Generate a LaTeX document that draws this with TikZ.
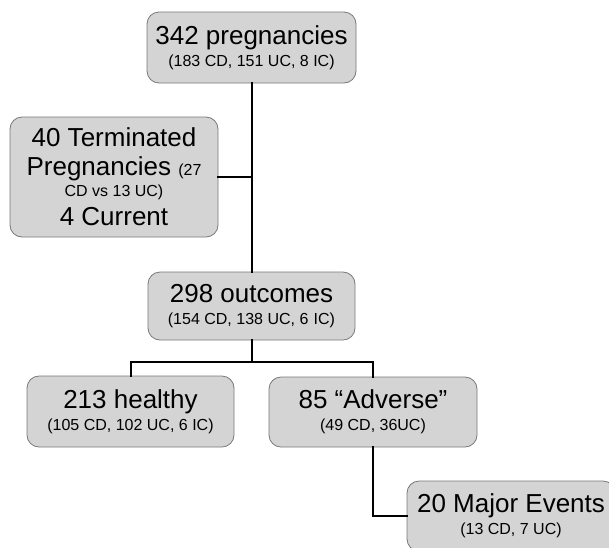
\documentclass[tikz,border=0pt]{standalone}
\usepackage{fontspec}
\setmainfont{Liberation Sans}
\usepackage{tikz}
\usetikzlibrary{calc}

\definecolor{boxfill}{RGB}{212,212,212}
\definecolor{boxedge}{RGB}{120,120,120}
\newcommand{\subcount}[1]{{\fontsize{16}{19}\selectfont #1}}

\begin{document}
\begin{tikzpicture}[
    x=1pt, y=-1pt,
    stage/.style={rectangle, rounded corners=12pt, draw=boxedge, fill=boxfill, line width=0.8pt, minimum width=208pt, minimum height=70pt, inner sep=0pt, align=center, font=\fontsize{26}{22}\selectfont},
    link/.style={line width=2pt, line cap=rect}
]
    \useasboundingbox (0,0) rectangle (609,547);

    % Main column
    \node[stage, minimum width=209pt, minimum height=71pt] (preg) at (251.5,47.5) {342 pregnancies\\ \subcount{(183 CD, 151 UC, 8 IC)}};
    \node[stage, minimum height=120pt] (term) at (114,177) {40 Terminated\\[7pt] Pregnancies \subcount{(27}\\[-1pt] \subcount{CD vs 13 UC)}\\[7pt] 4 Current};
    \node[stage, minimum width=207pt, minimum height=68pt] (outc) at (251.5,306) {298 outcomes\\ \subcount{(154 CD, 138 UC, 6\,\,IC)}};

    % Split of the outcomes
    \node[stage, minimum width=207pt, minimum height=71pt] (healthy) at (130.5,411.5) {213 healthy\\ \subcount{(105 CD, 102 UC, 6 IC)}};
    \node[stage] (adverse) at (373,412) {85 ``Adverse''\\ \subcount{(49 CD, 36UC)}};
    \node[stage] (major) at (511,516) {20 Major Events\\ \subcount{(13 CD, 7 UC)}};

    % Connections
    \draw[link] (preg.south) -- (outc.north);
    \draw[link] (term.east) -- (term.east -| preg.south);
    \draw[link] (outc.south) -- ($(outc.south)+(0,22)$) coordinate (bar);
    \draw[link] (healthy.north) |- (bar) -| (adverse.north);
    \draw[link] (adverse.south) |- (major.west);

\end{tikzpicture}
\end{document}
